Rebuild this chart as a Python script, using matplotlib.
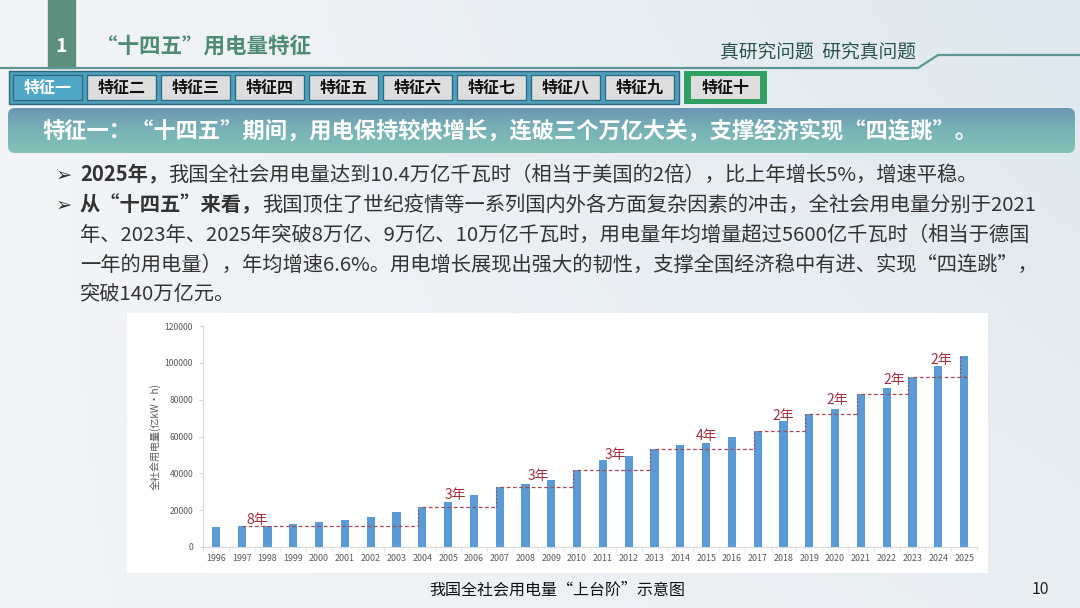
import matplotlib
matplotlib.use("Agg")
import numpy as np
import matplotlib.pyplot as plt
from matplotlib.patches import Rectangle, FancyBboxPatch, Polygon
from matplotlib.colors import LinearSegmentedColormap

plt.rcParams['font.family'] = ['Noto Sans CJK SC', 'DejaVu Sans']

# data (亿kW·h)
years = list(range(1996, 2026))
usage = [10600, 11250, 11600, 12300, 13500, 14700, 16300, 18900, 21800, 24700,
         28400, 32500, 34300, 36400, 41900, 47000, 49600, 53400, 55300, 56700,
         59600, 63100, 68600, 72300, 75100, 83200, 86300, 92200, 98500, 103700]
step_years = [1997, 2004, 2007, 2010, 2013, 2017, 2019, 2021, 2023, 2025]
step_labels = ['8年', '3年', '3年', '3年', '4年', '2年', '2年', '2年', '2年']
yticks = [0, 20000, 40000, 60000, 80000, 100000, 120000]

tabs = ['特征一', '特征二', '特征三', '特征四', '特征五', '特征六',
        '特征七', '特征八', '特征九']

title = '“十四五”用电量特征'
banner = '特征一：“十四五”期间，用电保持较快增长，连破三个万亿大关，支撑经济实现“四连跳”。'
lines = [
    [('2025年，', 'bold'), ('我国全社会用电量达到10.4万亿千瓦时（相当于美国的2倍），比上年增长5%，增速平稳。', 'normal')],
    [('从“十四五”来看，', 'bold'), ('我国顶住了世纪疫情等一系列国内外各方面复杂因素的冲击，全社会用电量分别于2021', 'normal')],
    [('年、2023年、2025年突破8万亿、9万亿、10万亿千瓦时，用电量年均增量超过5600亿千瓦时（相当于德国', 'normal')],
    [('一年的用电量），年均增速6.6%。用电增长展现出强大的韧性，支撑全国经济稳中有进、实现“四连跳”，', 'normal')],
    [('突破140万亿元。', 'normal')],
]
caption = '我国全社会用电量“上台阶”示意图'

W, H = 1080, 608
fig = plt.figure(figsize=(W / 100, H / 100), dpi=100)

# slide background, in pixel coordinates
bg = fig.add_axes([0, 0, 1, 1])
bg.set_xlim(0, W)
bg.set_ylim(H, 0)
bg.axis('off')

grad = LinearSegmentedColormap.from_list('bg', ['#f3f5f7', '#e9eef2', '#dfe9ef'])
xx = np.linspace(0, 1, 256)
yy = np.linspace(0, 1, 64)
g = np.outer(1 - 0.5 * yy, xx)
bg.imshow(g, cmap=grad, extent=[0, W, H, 0], aspect='auto', zorder=0)

# header
bg.add_patch(Rectangle((48, 0), 27, 68, color='#5e8e7d', zorder=2))
bg.text(61.5, 46, '1', color='white', fontsize=14, fontweight='bold',
        ha='center', va='center', zorder=3)
bg.text(96, 46, title, color='#4f8b74', fontsize=15.5, fontweight='bold',
        ha='left', va='center', zorder=3)
bg.plot([0, 918, 938, W], [68, 68, 55, 55], color='#5f9595', lw=1.6, zorder=2)
bg.text(818, 52, '真研究问题  研究真问题', color='#2a5249', fontsize=13.5,
        ha='center', va='center', zorder=3)

# tab bar
bg.add_patch(Rectangle((9, 71), 670, 33, facecolor='#4f9fb9',
                       edgecolor='#2f6680', lw=1, zorder=2))
for i, t in enumerate(tabs):
    x0 = 13 + i * 74
    active = i == 0
    bg.add_patch(Rectangle((x0, 75), 69, 25,
                           facecolor='#4ea8c6' if active else '#dedede',
                           edgecolor='#2d6d8a', lw=1, zorder=3))
    bg.text(x0 + 34.5, 88, t, color='white' if active else '#111111',
            fontsize=11.5, fontweight='bold', ha='center', va='center', zorder=4)
bg.add_patch(Rectangle((684, 71), 83, 33, facecolor='#2f9f62', zorder=2))
bg.add_patch(Rectangle((691, 76), 69, 23, facecolor='#dedede', zorder=3))
bg.text(725.5, 88, '特征十', color='#111111', fontsize=11.5,
        fontweight='bold', ha='center', va='center', zorder=4)

# banner
bbox = FancyBboxPatch((8, 108), 1067, 45, boxstyle='round,pad=0,rounding_size=7',
                      facecolor='none', edgecolor='none', zorder=2)
bg.add_patch(bbox)
bgrad = LinearSegmentedColormap.from_list('bn', ['#6c97b3', '#79b3b6', '#83c1b6'])
bim = bg.imshow(np.linspace(0, 1, 32).reshape(-1, 1), cmap=bgrad,
                extent=[8, 1075, 153, 108], aspect='auto', zorder=2)
bim.set_clip_path(bbox)
bg.text(42, 131, banner, color='white', fontsize=16, fontweight='bold',
        ha='left', va='center', zorder=3)

# bullet text
fig.canvas.draw()
renderer = fig.canvas.get_renderer()
line_y = [175, 205, 235, 265, 294]
for k, segs in enumerate(lines):
    y = line_y[k]
    if k < 2:
        bg.text(56, y, '➢', color='#333333', fontsize=14, family='DejaVu Sans',
                ha='left', va='center', zorder=3)
    x = 80
    for s, w in segs:
        t = bg.text(x, y, s, color='#333333', fontsize=14.6, fontweight=w,
                    ha='left', va='center', zorder=3)
        x += t.get_window_extent(renderer).width

# chart panel
bg.add_patch(Rectangle((127, 313), 861, 260, facecolor='white', zorder=1))
bg.text(557, 590, caption, color='#111111', fontsize=11.5,
        ha='center', va='center', zorder=3)
bg.text(1040, 590, '10', color='#222222', fontsize=11.5,
        ha='center', va='center', zorder=3)

ax = fig.add_axes([203 / W, 1 - 547 / H, 774 / W, 221 / H])
ax.set_facecolor('white')
ax.bar(years, usage, width=0.32, color='#5b9bd5', zorder=2)
ax.set_xlim(1995.5, 2025.5)
ax.set_ylim(0, 120000)
ax.set_yticks(yticks)
ax.set_yticklabels([str(v) for v in yticks])
ax.set_xticks(years)
ax.set_xticks(np.arange(1995.5, 2026, 1), minor=True)
ax.tick_params(axis='x', which='major', length=0, labelsize=6.4,
               labelcolor='#595959', pad=5)
ax.tick_params(axis='x', which='minor', length=3, color='#d9d9d9')
ax.tick_params(axis='y', labelsize=6.2, labelcolor='#595959', length=3,
               color='#d9d9d9', pad=4)
for sp in ['top', 'right']:
    ax.spines[sp].set_visible(False)
ax.spines['left'].set_color('#d9d9d9')
ax.spines['bottom'].set_color('#d9d9d9')
ax.set_ylabel('全社会用电量(亿kW·h)', fontsize=7.2, color='#595959', labelpad=3)

# step-up guide lines
val = dict(zip(years, usage))
dash_c = '#a34a55'
for i in range(len(step_years) - 1):
    a, b = step_years[i], step_years[i + 1]
    xe = b - 0.16
    ax.plot([a, xe + (0.32 if i == len(step_years) - 2 else 0)], [val[a], val[a]],
            color=dash_c, lw=0.9, ls=(0, (3, 2)), zorder=3)
    ax.plot([xe, xe], [val[a], val[b]], color=dash_c, lw=0.9,
            ls=(0, (1.5, 1.5)), zorder=3)

label_x = [1997.6, 2005.3, 2008.5, 2011.5, 2015.0, 2018.0, 2020.1, 2022.3, 2024.1]
label_y = [14700, 28300, 38800, 49700, 60500, 71200, 79900, 90800, 101700]
for s, lx, ly in zip(step_labels, label_x, label_y):
    ax.text(lx, ly, s, color='#a3303f', fontsize=10, ha='center', va='center',
            zorder=4)

fig.savefig('out.png', dpi=100)
